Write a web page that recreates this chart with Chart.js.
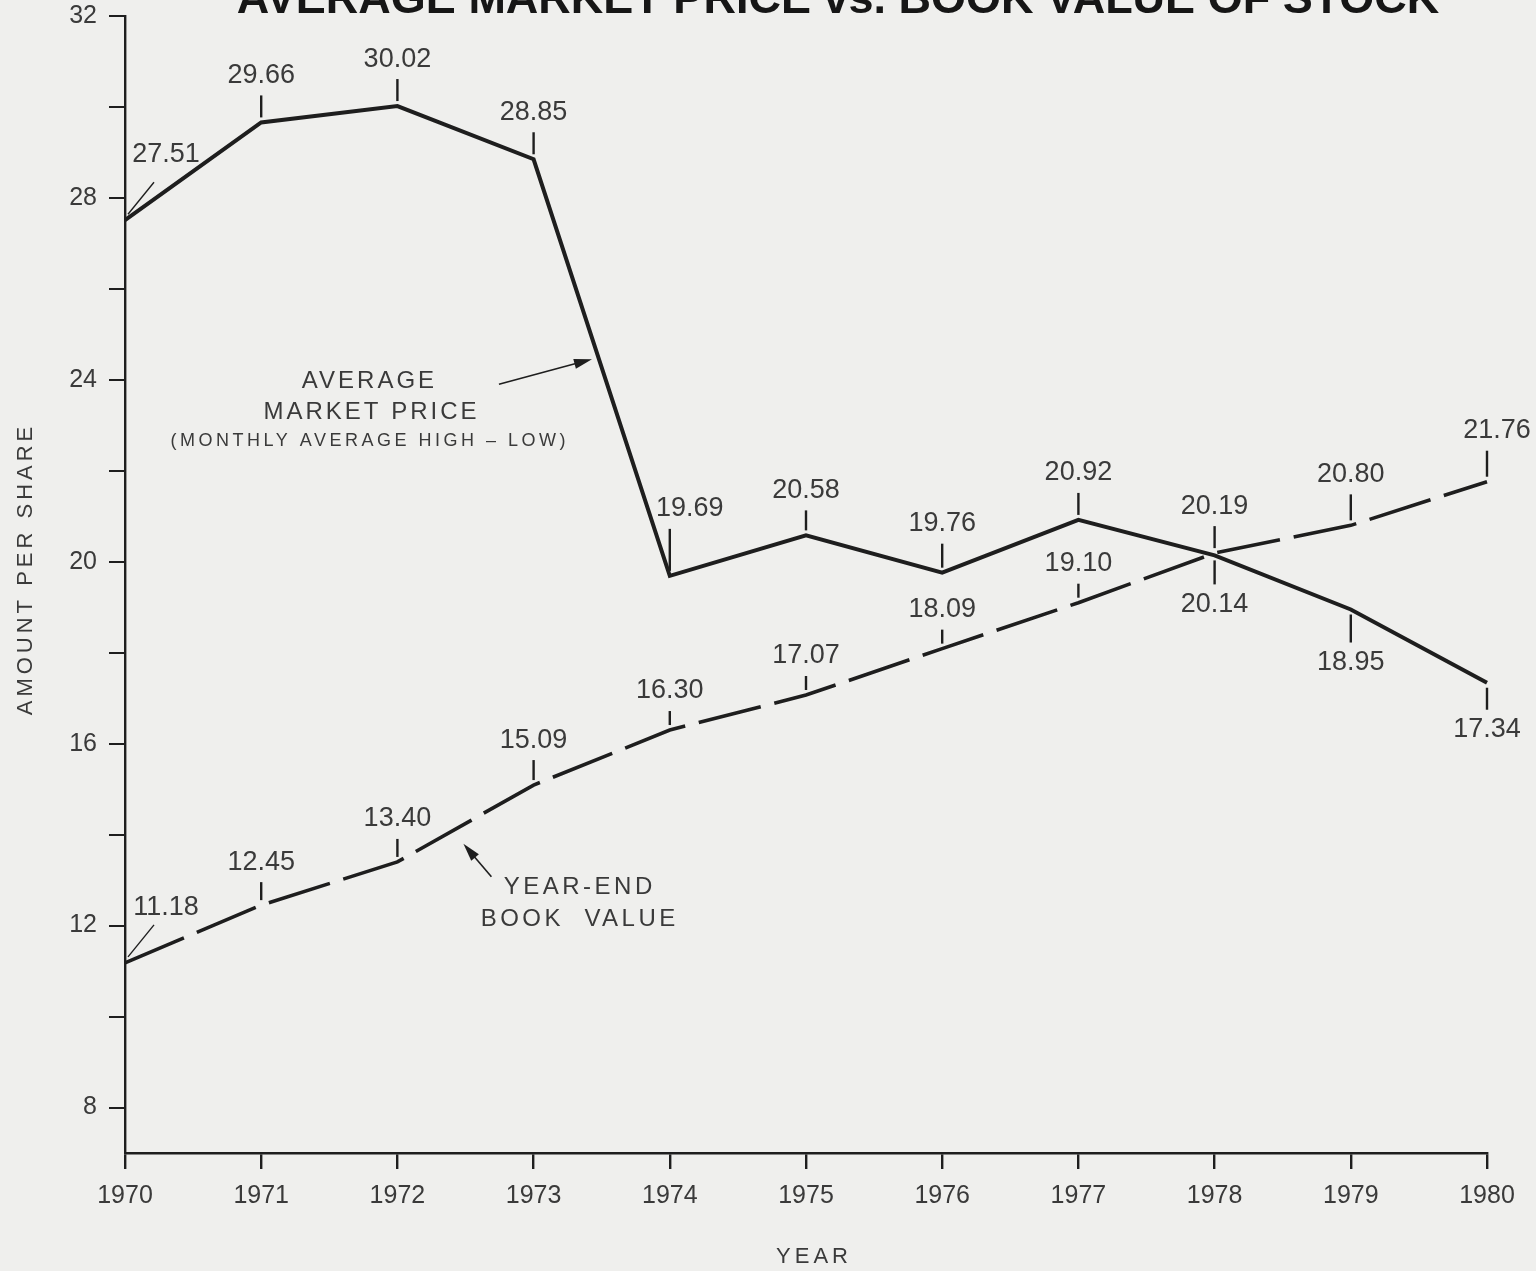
<!DOCTYPE html>
<html>
<head>
<meta charset="utf-8">
<script src="https://cdn.jsdelivr.net/npm/chart.js@4.4.1/dist/chart.umd.min.js"></script>
<style>
  html, body { margin: 0; padding: 0; background: #efefed; }
  #wrap { width: 1536px; height: 1271px; }
</style>
</head>
<body>
<div id="wrap"><canvas id="stockChart" width="1536" height="1271"></canvas></div>
<script>
const years = ["1970", "1971", "1972", "1973", "1974", "1975", "1976", "1977", "1978", "1979", "1980"]
const marketPrice = [27.51, 29.66, 30.02, 28.85, 19.69, 20.58, 19.76, 20.92, 20.14, 18.95, 17.34]
const bookValue = [11.18, 12.45, 13.40, 15.09, 16.30, 17.07, 18.09, 19.10, 20.19, 20.80, 21.76]
const yTicks = [8, 10, 12, 14, 16, 18, 20, 22, 24, 26, 28, 30, 32]
const yLabeledTicks = [8, 12, 16, 20, 24, 28, 32]

const ink = "#1e1e1e"
const textInk = "#3a3a3a"
const sans = "'Liberation Sans', Arial, Helvetica, sans-serif"

// where each value label sits against its point
const marketLabelStyle = [
  { side: "lead", dy: -66 },
  { side: "up", len: 22 },
  { side: "up", len: 22 },
  { side: "up", len: 22 },
  { side: "up", len: 42, dx: 20 },
  { side: "up", len: 20 },
  { side: "up", len: 24 },
  { side: "up", len: 22 },
  { side: "down", len: 24 },
  { side: "down", len: 28 },
  { side: "down", len: 22 },
]
const bookLabelStyle = [
  { side: "lead", dy: -55 },
  { side: "up", len: 18 },
  { side: "up", len: 18 },
  { side: "up", len: 20 },
  { side: "up", len: 14 },
  { side: "up", len: 14 },
  { side: "up", len: 14 },
  { side: "up", len: 14 },
  { side: "up", len: 22 },
  { side: "up", len: 26 },
  { side: "up", len: 26, dx: 10 },
]

function spacedText(ctx, text, x, y, font, spacing) {
  ctx.save()
  ctx.font = font
  ctx.letterSpacing = spacing + "px"
  ctx.textAlign = "center"
  ctx.textBaseline = "middle"
  ctx.fillStyle = textInk
  // letterSpacing adds trailing space after the last glyph, shift back half of it
  ctx.fillText(text, x + spacing / 2, y)
  ctx.restore()
}

function arrow(ctx, x1, y1, x2, y2) {
  const ang = Math.atan2(y2 - y1, x2 - x1)
  ctx.save()
  ctx.strokeStyle = ink
  ctx.fillStyle = ink
  ctx.lineWidth = 1.6
  ctx.beginPath()
  ctx.moveTo(x1, y1)
  ctx.lineTo(x2 - 10 * Math.cos(ang), y2 - 10 * Math.sin(ang))
  ctx.stroke()
  ctx.beginPath()
  ctx.moveTo(x2, y2)
  ctx.lineTo(x2 - 18 * Math.cos(ang) + 5 * Math.sin(ang), y2 - 18 * Math.sin(ang) - 5 * Math.cos(ang))
  ctx.lineTo(x2 - 18 * Math.cos(ang) - 5 * Math.sin(ang), y2 - 18 * Math.sin(ang) + 5 * Math.cos(ang))
  ctx.closePath()
  ctx.fill()
  ctx.restore()
}

function drawValueLabels(chart, dsIndex, styles) {
  const ctx = chart.ctx
  const meta = chart.getDatasetMeta(dsIndex)
  const values = chart.data.datasets[dsIndex].data
  ctx.save()
  ctx.strokeStyle = ink
  ctx.fillStyle = textInk
  ctx.font = "27px " + sans
  ctx.textAlign = "center"
  ctx.textBaseline = "middle"
  meta.data.forEach((pt, i) => {
    const s = styles[i]
    const text = values[i].toFixed(2)
    const dx = s.dx || 0
    if (s.side === "lead") {
      ctx.lineWidth = 1.4
      ctx.beginPath()
      ctx.moveTo(pt.x + 3, pt.y - 6)
      ctx.lineTo(pt.x + 29, pt.y - 38)
      ctx.stroke()
      ctx.fillText(text, pt.x + 41, pt.y + s.dy)
      return
    }
    const dir = s.side === "up" ? -1 : 1
    const y0 = pt.y + dir * 5
    const y1 = y0 + dir * s.len
    ctx.lineWidth = 2.4
    ctx.beginPath()
    ctx.moveTo(pt.x, y0)
    ctx.lineTo(pt.x, y1)
    ctx.stroke()
    ctx.fillText(text, pt.x + dx, y1 + dir * 20)
  })
  ctx.restore()
}

const annotations = {
  id: "annotations",
  afterDraw(chart) {
    const ctx = chart.ctx
    const area = chart.chartArea

    // title, cut by the top edge as in the scan
    ctx.save()
    ctx.font = "bold 45px " + sans
    ctx.fillStyle = "#161616"
    ctx.textAlign = "center"
    ctx.textBaseline = "alphabetic"
    ctx.fillText("AVERAGE MARKET PRICE vs. BOOK VALUE OF STOCK", 838, 13)
    ctx.restore()

    // axis titles
    spacedText(ctx, "YEAR", (area.left + area.right) / 2 + 6, 1257, "22px " + sans, 4)
    ctx.save()
    ctx.translate(26, 571)
    ctx.rotate(-Math.PI / 2)
    spacedText(ctx, "AMOUNT PER SHARE", 0, 0, "22px " + sans, 4)
    ctx.restore()

    drawValueLabels(chart, 0, marketLabelStyle)
    drawValueLabels(chart, 1, bookLabelStyle)

    // series captions with arrows
    spacedText(ctx, "AVERAGE", 368, 381, "24px " + sans, 3)
    spacedText(ctx, "MARKET PRICE", 370, 412, "24px " + sans, 3)
    spacedText(ctx, "(MONTHLY AVERAGE HIGH \u2013 LOW)", 368, 441, "18px " + sans, 3.5)
    const m = chart.getDatasetMeta(0).data
    const t = 0.48
    const mx = m[3].x + (m[4].x - m[3].x) * t - 7
    const my = m[3].y + (m[4].y - m[3].y) * t
    arrow(ctx, mx - 93, my + 25, mx, my)

    spacedText(ctx, "YEAR-END", 578, 887, "24px " + sans, 3.5)
    spacedText(ctx, "BOOK  VALUE", 578, 919, "24px " + sans, 3.5)
    const b = chart.getDatasetMeta(1).data
    const bx = b[2].x + (b[3].x - b[2].x) * 0.47 + 2
    const by = b[2].y + (b[3].y - b[2].y) * 0.47 + 18
    arrow(ctx, bx + 28, by + 33, bx, by)
  },
}

new Chart(document.getElementById("stockChart"), {
  type: "line",
  data: {
    labels: years,
    datasets: [
      {
        label: "Average Market Price",
        data: marketPrice,
        borderColor: ink,
        borderWidth: 4,
        pointRadius: 0,
        tension: 0,
        borderJoinStyle: "miter",
      },
      {
        label: "Year-End Book Value",
        data: bookValue,
        borderColor: ink,
        borderWidth: 3.6,
        borderDash: [64, 14],
        pointRadius: 0,
        tension: 0,
      },
    ],
  },
  options: {
    responsive: false,
    animation: false,
    layout: { padding: { top: 16, right: 49, bottom: 0, left: 0 } },
    plugins: { legend: { display: false }, tooltip: { enabled: false } },
    scales: {
      x: {
        type: "category",
        offset: false,
        afterFit: (scale) => { scale.height = 118 },
        border: { display: true, color: ink, width: 2.4 },
        grid: { display: true, drawOnChartArea: false, drawTicks: true, tickLength: 16, color: ink, lineWidth: 2.4 },
        ticks: { autoSkip: false, maxRotation: 0, padding: 12, color: textInk, font: { family: sans, size: 25 } },
      },
      y: {
        min: 7,
        max: 32,
        afterFit: (scale) => {
          scale.width = 125
          scale.paddingTop = 0
          scale.paddingBottom = 0
        },
        afterBuildTicks: (scale) => { scale.ticks = yTicks.map((v) => ({ value: v })) },
        border: { display: true, color: ink, width: 2.4 },
        grid: { display: true, drawOnChartArea: false, drawTicks: true, tickLength: 16, color: ink, lineWidth: 2 },
        ticks: {
          padding: 12,
          color: textInk,
          font: { family: sans, size: 25 },
          callback: (v) => (yLabeledTicks.includes(v) ? String(v) : ""),
        },
      },
    },
  },
  plugins: [annotations],
})
</script>
</body>
</html>
